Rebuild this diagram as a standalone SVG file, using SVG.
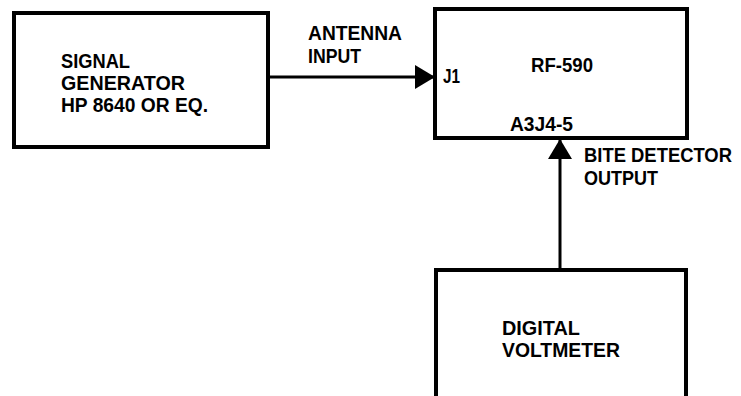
<svg xmlns="http://www.w3.org/2000/svg" width="741" height="396" viewBox="0 0 741 396">
<style>
.box{fill:#fff;stroke:#000;stroke-width:4}
.t{font-family:"Liberation Sans",Arial,sans-serif;font-weight:bold;font-size:20px;fill:#000}
.c{stroke:#000;stroke-width:3;fill:none}
</style>
<defs>
<marker id="ah" markerUnits="userSpaceOnUse" markerWidth="20" markerHeight="24" refX="19" refY="12" orient="auto">
<path d="M0,0 L20,12 L0,24 Z" fill="#000"/>
</marker>
</defs>
<rect width="741" height="396" fill="#fff"/>
<g id="sig-gen">
<rect class="box" x="14" y="13" width="254" height="134"/>
<text class="t" x="61" y="68" textLength="69" lengthAdjust="spacingAndGlyphs">SIGNAL</text>
<text class="t" x="61" y="90" textLength="124" lengthAdjust="spacingAndGlyphs">GENERATOR</text>
<text class="t" x="61" y="112" textLength="147" lengthAdjust="spacingAndGlyphs">HP 8640 OR EQ.</text>
</g>
<g id="rf590">
<rect class="box" x="435" y="9" width="252" height="129"/>
<text class="t" x="531" y="72" textLength="62" lengthAdjust="spacingAndGlyphs">RF-590</text>
<text class="t" x="443" y="83" textLength="17" lengthAdjust="spacingAndGlyphs">J1</text>
<text class="t" x="510" y="131" textLength="63" lengthAdjust="spacingAndGlyphs">A3J4-5</text>
</g>
<g id="dvm">
<rect class="box" x="436" y="270" width="250" height="140"/>
<text class="t" x="502" y="335" textLength="78" lengthAdjust="spacingAndGlyphs">DIGITAL</text>
<text class="t" x="502" y="357" textLength="118" lengthAdjust="spacingAndGlyphs">VOLTMETER</text>
</g>
<g id="connectors">
<line class="c" x1="268" y1="77" x2="434" y2="77" marker-end="url(#ah)"/>
<line class="c" x1="560" y1="268" x2="560" y2="140" marker-end="url(#ah)"/>
<text class="t" x="308" y="40" textLength="94" lengthAdjust="spacingAndGlyphs">ANTENNA</text>
<text class="t" x="308" y="63" textLength="53" lengthAdjust="spacingAndGlyphs">INPUT</text>
<text class="t" x="584" y="162" font-size="18.5" textLength="148" lengthAdjust="spacingAndGlyphs">BITE DETECTOR</text>
<text class="t" x="584" y="185" textLength="74" lengthAdjust="spacingAndGlyphs">OUTPUT</text>
</g>
</svg>
